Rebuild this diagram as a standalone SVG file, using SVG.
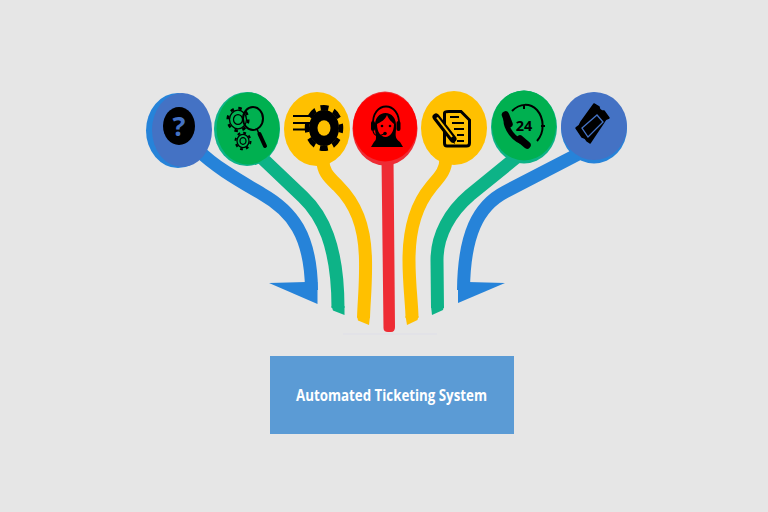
<svg xmlns="http://www.w3.org/2000/svg" width="768" height="512" viewBox="0 0 768 512">
<style>
.c{fill:none;stroke-width:13}
.bl{stroke:#2683D9}.gr{stroke:#0DB387}.ye{stroke:#FFC000}
.k{fill:#000}
.o{fill:none;stroke:#000}
.t{font-family:"Open Sans","Liberation Sans",sans-serif;font-weight:700}
</style>
<rect width="768" height="512" fill="#E6E6E6"/>
<g id="connectors">
<line x1="343" y1="334" x2="437" y2="334" stroke="#DEDEE8" stroke-width="1"/>
<path class="c bl" d="M198,150 C215,167 240,181 262,194 C292,211 311,235 311.500,290"/>
<path d="M269,283 L306,282 L317.500,282 L317.500,304 Z" fill="#2683D9"/>
<path class="c gr" d="M262,158 L303,197 C322,215 338,245 338,308"/>
<path d="M331.500,306 L344.500,306 L344.500,315 L333,310.500 Z" fill="#0DB387"/>
<path class="c ye" d="M323,158 C322,172 330,178 338,186 C355,203 365,225 365.500,260 C366,285 364,300 363.500,318"/>
<path d="M357,316 L370,316 L369,325 L358,320.500 Z" fill="#FFC000"/>
<path d="M381.500,158 L393.500,158 L395,327 Q395,332 391,332 L388,332 Q383.500,332 383.500,328 Z" fill="#EE2C34"/>
<path class="c ye" d="M446,158 C446,172 438,178 431,187 C416,205 409,228 409,260 C409,285 412,305 412,318"/>
<path d="M405.500,316 L418.500,316 L417.500,320 L407,325 Z" fill="#FFC000"/>
<path class="c gr" d="M518,156 L470,195 C450,212 437,235 437,260 L437.500,308"/>
<path d="M431,306 L444,306 L443,310 L432,315 Z" fill="#0DB387"/>
<path class="c bl" d="M586,150 L505,192 C478,206 464,235 463.500,290"/>
<path d="M505,283 L468,282 L458,282 L458,303 Z" fill="#2683D9"/>
</g>
<g id="node-question">
<ellipse cx="178" cy="130.500" rx="32" ry="37.500" fill="#2683D9"/>
<ellipse cx="182" cy="130" rx="30" ry="37" fill="#4472C4"/>
<ellipse cx="179" cy="126" rx="16" ry="19" class="k"/>
<text x="179" y="136" text-anchor="middle" class="t" font-size="27" fill="#4472C4">?</text>
</g>
<g id="node-search">
<ellipse cx="247" cy="129" rx="33" ry="37" fill="#0DB387"/>
<ellipse cx="248" cy="128.500" rx="31.500" ry="36" fill="#00B050"/>
<g transform="translate(238,119.500) scale(1,1.1)">
<circle r="8.500" class="o" stroke-width="1.300"/>
<circle r="10.300" class="o" stroke-width="2.500" stroke-dasharray="3.500 4.590"/>
<circle r="4.500" class="o" stroke-width="1.200"/>
</g>
<g transform="translate(243,141) scale(1,1.1)">
<circle r="6" class="o" stroke-width="1.200"/>
<circle r="7.500" class="o" stroke-width="2" stroke-dasharray="2.800 3.090"/>
<circle r="3" class="o" stroke-width="1.200"/>
</g>
<ellipse cx="253" cy="118.500" rx="10" ry="11.500" class="o" stroke-width="2"/>
<path d="M257,129 L259,134" class="o" stroke-width="1.500"/>
<path d="M259.500,134 L265,146" class="o" stroke-width="4" stroke-linecap="round"/>
</g>
<g id="node-gear">
<ellipse cx="317" cy="129" rx="33" ry="37" fill="#FFC000"/>
<g transform="translate(324,128) scale(1,1.2)">
<circle r="15" class="k"/>
<circle r="17" class="o" stroke-width="4.500" stroke-dasharray="8 5.350" stroke-dashoffset="4"/>
<circle r="6.500" fill="#FFC000"/>
</g>
<path d="M293,116 H317 M293,123 H314 M293,129.500 H312" class="o" stroke-width="2.200"/>
</g>
<g id="node-agent">
<ellipse cx="385" cy="128.500" rx="32.500" ry="37" fill="#EE2C34"/>
<ellipse cx="385" cy="127" rx="32" ry="34.500" fill="#F00"/>
<path d="M373,126 C371,100 401,100 399,126" class="o" stroke-width="1.800"/>
<path d="M375,128 C373,108 398,108 396,128 C396,134 394,138 400,142 L403,147 H371 L374,142 C378,139 375,134 375,128 Z" class="k"/>
<path d="M377,124 C381,122 385,120 387,115 C389,120 392,122 394,124 C394,132 390,137 385.500,137 C381,137 377,132 377,124 Z" fill="#F00"/>
<rect x="371" y="121" width="4" height="10" rx="2" class="k"/>
<rect x="396.500" y="121" width="4" height="10" rx="2" class="k"/>
<circle cx="382" cy="126" r="1.300" class="k"/><circle cx="390" cy="126" r="1.300" class="k"/>
<path d="M373,131 C374,136 378,137 384,134" class="o" stroke-width="1.200"/>
<circle cx="385" cy="133.500" r="1.800" class="k"/>
</g>
<g id="node-document">
<ellipse cx="454" cy="128" rx="33" ry="37" fill="#FFC000"/>
<path d="M449,111.500 H461 L469.500,120 V143 Q469.500,146 466.500,146 H447 Q444.500,146 444.500,143 V113 Q444.500,111.500 449,111.500 Z" class="o" stroke-width="3"/>
<path d="M450,117 H459 M452,123 H464 M454,129 H464 M457,135 H464 M457,141 H464" class="o" stroke-width="2"/>
<path d="M436,117 L453,139" stroke="#000" stroke-width="7" stroke-linecap="round"/>
<path d="M437,117.500 L452,137" stroke="#FFC000" stroke-width="2"/>
<path d="M452,142 L455,144 L454,140 Z" class="k"/>
</g>
<g id="node-phone">
<ellipse cx="524" cy="127" rx="33" ry="36.500" fill="#0DB387"/>
<ellipse cx="524" cy="125.500" rx="32" ry="35" fill="#00B050"/>
<path d="M512,111 C520,103 530,103 537,110 C544,118 545,132 537,141" class="o" stroke-width="2"/>
<path d="M524,105 V109 M541,126 H545" class="o" stroke-width="2"/>
<text x="524" y="131" text-anchor="middle" class="t" font-size="14.500" fill="#000">24</text>
<path d="M506,118 C505,128 514,141 526,143" class="o" stroke-width="5" stroke-linecap="round"/>
<path d="M505.500,115 L509,124 M520,139 L527,145" class="o" stroke-width="7.500" stroke-linecap="round"/>
</g>
<g id="node-ticket">
<ellipse cx="594" cy="128" rx="33" ry="35.500" fill="#2683D9"/>
<ellipse cx="594" cy="126" rx="33" ry="34" fill="#4472C4"/>
<path d="M594,104 L599,107 Q599,110 602,111 L604,111 L609,118 Q605,119 604,122 L590,143 L587,141 Q586,138 582,137 L576,128 Q580,126 581,122 Z" class="k" stroke="#000" stroke-width="1.500" stroke-linejoin="round"/>
<path d="M582,128 L597,115 L603,122 L588,137 Z" fill="#000" stroke="#4472C4" stroke-width="1.300"/>
</g>
<g id="node-system">
<rect x="270" y="356" width="244" height="78" fill="#5B9BD5"/>
<text x="296" y="400.500" class="t" font-size="16" fill="#fff" textLength="191" lengthAdjust="spacingAndGlyphs">Automated Ticketing System</text>
</g>
</svg>
